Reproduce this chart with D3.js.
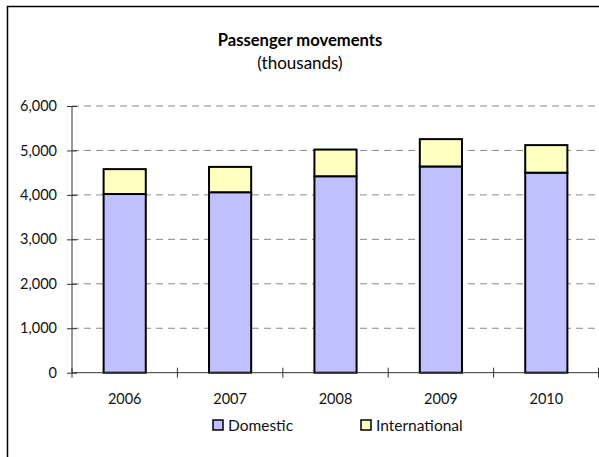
<!DOCTYPE html>
<html>
<head>
<meta charset="utf-8">
<script src="https://cdn.jsdelivr.net/npm/d3@7"></script>
<style>
  html, body { margin: 0; padding: 0; background: #fff; }
  svg { display: block; font-family: Lato, "Open Sans", sans-serif; }
</style>
</head>
<body>
<svg id="chart" width="599" height="457"></svg>
<script>
// Passenger movements by year, in thousands
const years = ["2006", "2007", "2008", "2009", "2010"];
const domestic = [4020, 4060, 4420, 4640, 4500];
const international = [560, 570, 600, 615, 620];
const seriesNames = ["Domestic", "International"];
const seriesColors = ["#C0C0FF", "#FFFFC0"];
const yTicks = [0, 1000, 2000, 3000, 4000, 5000, 6000];

const svg = d3.select("#chart");
const W = 599, H = 457;

// Frame (left and top edges)
svg.append("path")
  .attr("d", `M7.5,${H} L7.5,6.5 L${W},6.5`)
  .attr("fill", "none").attr("stroke", "#000").attr("stroke-width", 1.5);

// Titles
svg.append("text").attr("x", 300).attr("y", 46)
  .attr("text-anchor", "middle").attr("font-size", 16.6).attr("font-weight", "bold")
  .text("Passenger movements");
svg.append("text").attr("x", 300).attr("y", 69)
  .attr("text-anchor", "middle").attr("font-size", 17)
  .text("(thousands)");

const plot = { left: 72, right: 599, top: 106, bottom: 372.7 };

const x = d3.scaleBand().domain(years).range([plot.left, plot.right]).paddingInner(0).paddingOuter(0);
const y = d3.scaleLinear().domain([0, 6000]).range([plot.bottom, plot.top]);

// Dashed gridlines
svg.append("g").selectAll("line")
  .data(yTicks.filter(d => d > 0))
  .join("line")
  .attr("x1", plot.left).attr("x2", plot.right)
  .attr("y1", d => y(d)).attr("y2", d => y(d))
  .attr("stroke", "#8a8a8a").attr("stroke-width", 1)
  .attr("stroke-dasharray", "7,5");

// Y axis
const yAxis = svg.append("g").attr("transform", `translate(${plot.left},0)`)
  .call(d3.axisLeft(y).tickValues(yTicks).tickFormat(d3.format(",")).tickSize(5).tickPadding(10));
yAxis.select(".domain").attr("stroke", "#333").attr("d", `M0,${plot.top}V${plot.bottom}`);
yAxis.selectAll(".tick line").attr("x1", -5).attr("x2", 5).attr("stroke", "#333");
yAxis.selectAll("text").attr("font-size", 14.5).attr("fill", "#111").attr("font-family", "Lato, sans-serif");

// Stacked bars
const rows = years.map((yr, i) => ({ year: yr, Domestic: domestic[i], International: international[i] }));
const stacked = d3.stack().keys(seriesNames)(rows);
const barW = x.bandwidth() * 0.4;

svg.append("g").selectAll("g")
  .data(stacked)
  .join("g")
  .attr("fill", (d, i) => seriesColors[i])
  .selectAll("rect")
  .data(d => d)
  .join("rect")
  .attr("x", d => x(d.data.year) + (x.bandwidth() - barW) / 2)
  .attr("y", d => y(d[1]))
  .attr("width", barW)
  .attr("height", d => y(d[0]) - y(d[1]))
  .attr("stroke", "#000").attr("stroke-width", 2);

// X axis with ticks between categories
const xg = svg.append("g").attr("transform", `translate(0,${plot.bottom})`);
xg.append("line").attr("x1", plot.left).attr("x2", plot.right)
  .attr("stroke", "#333").attr("stroke-width", 1);
const bounds = years.map(d => x(d)).concat([plot.right - 0.5]);
xg.selectAll("line.tk").data(bounds).join("line").attr("class", "tk")
  .attr("x1", d => d).attr("x2", d => d).attr("y1", -5).attr("y2", 5)
  .attr("stroke", "#333");
xg.selectAll("text").data(years).join("text")
  .attr("x", d => x(d) + x.bandwidth() / 2).attr("y", 31)
  .attr("text-anchor", "middle").attr("font-size", 14.5).attr("fill", "#111")
  .text(d => d);

// Legend
const legendX = [213, 361];
const lg = svg.append("g").selectAll("g").data(seriesNames).join("g")
  .attr("transform", (d, i) => `translate(${legendX[i]},420)`);
lg.append("rect").attr("width", 10).attr("height", 10)
  .attr("fill", (d, i) => seriesColors[i]).attr("stroke", "#000").attr("stroke-width", 1.5);
lg.append("text").attr("x", 15).attr("y", 10.5).attr("font-size", 15.5).attr("fill", "#111")
  .text(d => d);
</script>
</body>
</html>
